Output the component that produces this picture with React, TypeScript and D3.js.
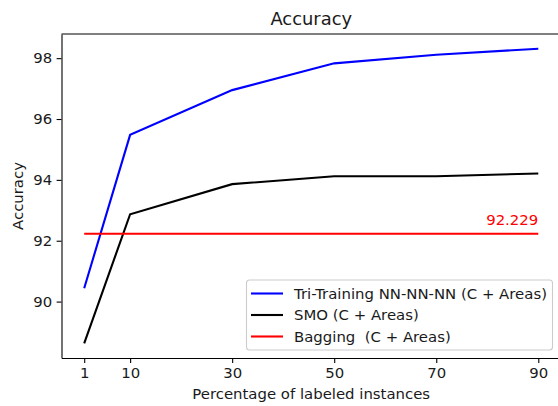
import React, { useEffect, useRef } from "react";
import * as d3 from "d3";

const percentages = [1, 10, 30, 50, 70, 90];
const triTraining = [90.44, 95.48, 96.95, 97.83, 98.11, 98.31];
const smo = [88.63, 92.87, 93.86, 94.12, 94.12, 94.21];
const baggingValue = 92.229;
const xTicks = [1, 10, 30, 50, 70, 90];
const yTicks = [90, 92, 94, 96, 98];
const seriesNames = ["Tri-Training NN-NN-NN (C + Areas)", "SMO (C + Areas)", "Bagging  (C + Areas)"];
const seriesColors = ["#0000ff", "#000000", "#ff0000"];

export default function App() {
  const ref = useRef<SVGSVGElement>(null);

  useEffect(() => {
    const width = 558;
    const height = 406;
    const margin = { top: 34, right: -3, bottom: 48, left: 61.5 };
    const innerWidth = width - margin.left - margin.right;
    const innerHeight = height - margin.top - margin.bottom;
    const font = "DejaVu Sans, sans-serif";
    const fs = "14.9px";

    const svg = d3.select(ref.current).attr("width", width).attr("height", height);
    svg.selectAll("*").remove();

    const allY = [...triTraining, ...smo, baggingValue];
    const yMin = d3.min(allY) as number;
    const yMax = d3.max(allY) as number;
    const yPad = (yMax - yMin) * 0.05;
    const xPad = (90 - 1) * 0.05;

    const x = d3.scaleLinear().domain([1 - xPad, 90 + xPad]).range([0, innerWidth]);
    const y = d3.scaleLinear().domain([yMin - yPad, yMax + yPad]).range([innerHeight, 0]);

    const g = svg.append("g").attr("transform", `translate(${margin.left}, ${margin.top})`);

    // lines
    const line = d3.line<number>()
      .x((d, i) => x(percentages[i]))
      .y(d => y(d));

    g.append("path")
      .datum(triTraining)
      .attr("d", line)
      .attr("fill", "none")
      .attr("stroke", seriesColors[0])
      .attr("stroke-width", 2.1);

    g.append("path")
      .datum(smo)
      .attr("d", line)
      .attr("fill", "none")
      .attr("stroke", seriesColors[1])
      .attr("stroke-width", 2.1);

    g.append("line")
      .attr("x1", x(1))
      .attr("x2", x(90))
      .attr("y1", y(baggingValue))
      .attr("y2", y(baggingValue))
      .attr("stroke", seriesColors[2])
      .attr("stroke-width", 2.1);

    g.append("text")
      .attr("x", x(90))
      .attr("y", y(baggingValue) - 9)
      .attr("text-anchor", "end")
      .attr("fill", "#ff0000")
      .style("font-family", font)
      .style("font-size", fs)
      .text(baggingValue.toString());

    // X axis
    const xAxis = g.append("g")
      .attr("transform", `translate(0, ${innerHeight})`)
      .call(d3.axisBottom(x).tickValues(xTicks).tickSize(4.9).tickSizeOuter(0).tickPadding(4.5));
    xAxis.select(".domain").attr("stroke", "#000").attr("stroke-width", 1.1);
    xAxis.selectAll(".tick line").attr("stroke", "#000").attr("stroke-width", 1.1);
    xAxis.selectAll("text").style("font-family", font).style("font-size", fs).attr("fill", "#1a1a1a");

    // Y axis
    const yAxis = g.append("g")
      .call(d3.axisLeft(y).tickValues(yTicks).tickSize(4.9).tickSizeOuter(0).tickPadding(4.5));
    yAxis.select(".domain").attr("stroke", "#000").attr("stroke-width", 1.1);
    yAxis.selectAll(".tick line").attr("stroke", "#000").attr("stroke-width", 1.1);
    yAxis.selectAll("text").style("font-family", font).style("font-size", fs).attr("fill", "#1a1a1a");

    // top spine
    g.append("line")
      .attr("x1", 0)
      .attr("x2", innerWidth)
      .attr("y1", 0)
      .attr("y2", 0)
      .attr("stroke", "#000")
      .attr("stroke-width", 1.1);

    // labels
    svg.append("text")
      .attr("text-anchor", "middle")
      .attr("x", margin.left + x(45.5))
      .attr("y", 399)
      .attr("fill", "#1a1a1a")
      .style("font-family", font)
      .style("font-size", fs)
      .text("Percentage of labeled instances");

    svg.append("text")
      .attr("text-anchor", "middle")
      .attr("transform", `translate(23, ${margin.top + innerHeight / 2}) rotate(-90)`)
      .attr("fill", "#1a1a1a")
      .style("font-family", font)
      .style("font-size", fs)
      .text("Accuracy");

    svg.append("text")
      .attr("text-anchor", "middle")
      .attr("x", margin.left + x(45.5))
      .attr("y", 25)
      .attr("fill", "#1a1a1a")
      .style("font-family", font)
      .style("font-size", "17.9px")
      .text("Accuracy");

    // legend
    const legend = svg.append("g").attr("transform", "translate(246.5, 280)");
    legend.append("rect")
      .attr("width", 306)
      .attr("height", 70)
      .attr("rx", 3)
      .attr("fill", "#fff")
      .attr("fill-opacity", 0.8)
      .attr("stroke", "#cccccc")
      .attr("stroke-width", 1.1);

    seriesNames.forEach((name, i) => {
      const cy = 13.5 + i * 21.5;
      legend.append("line")
        .attr("x1", 4.5)
        .attr("x2", 36.5)
        .attr("y1", cy)
        .attr("y2", cy)
        .attr("stroke", seriesColors[i])
        .attr("stroke-width", 2.1);
      legend.append("text")
        .attr("x", 47.5)
        .attr("y", cy + 5.3)
        .attr("fill", "#1a1a1a")
        .style("font-family", font)
        .style("font-size", fs)
        .style("white-space", "pre")
        .text(name);
    });
  }, []);

  return (
    <svg ref={ref} style={{ position: "absolute", left: 0, top: 0 }}></svg>
  );
}
